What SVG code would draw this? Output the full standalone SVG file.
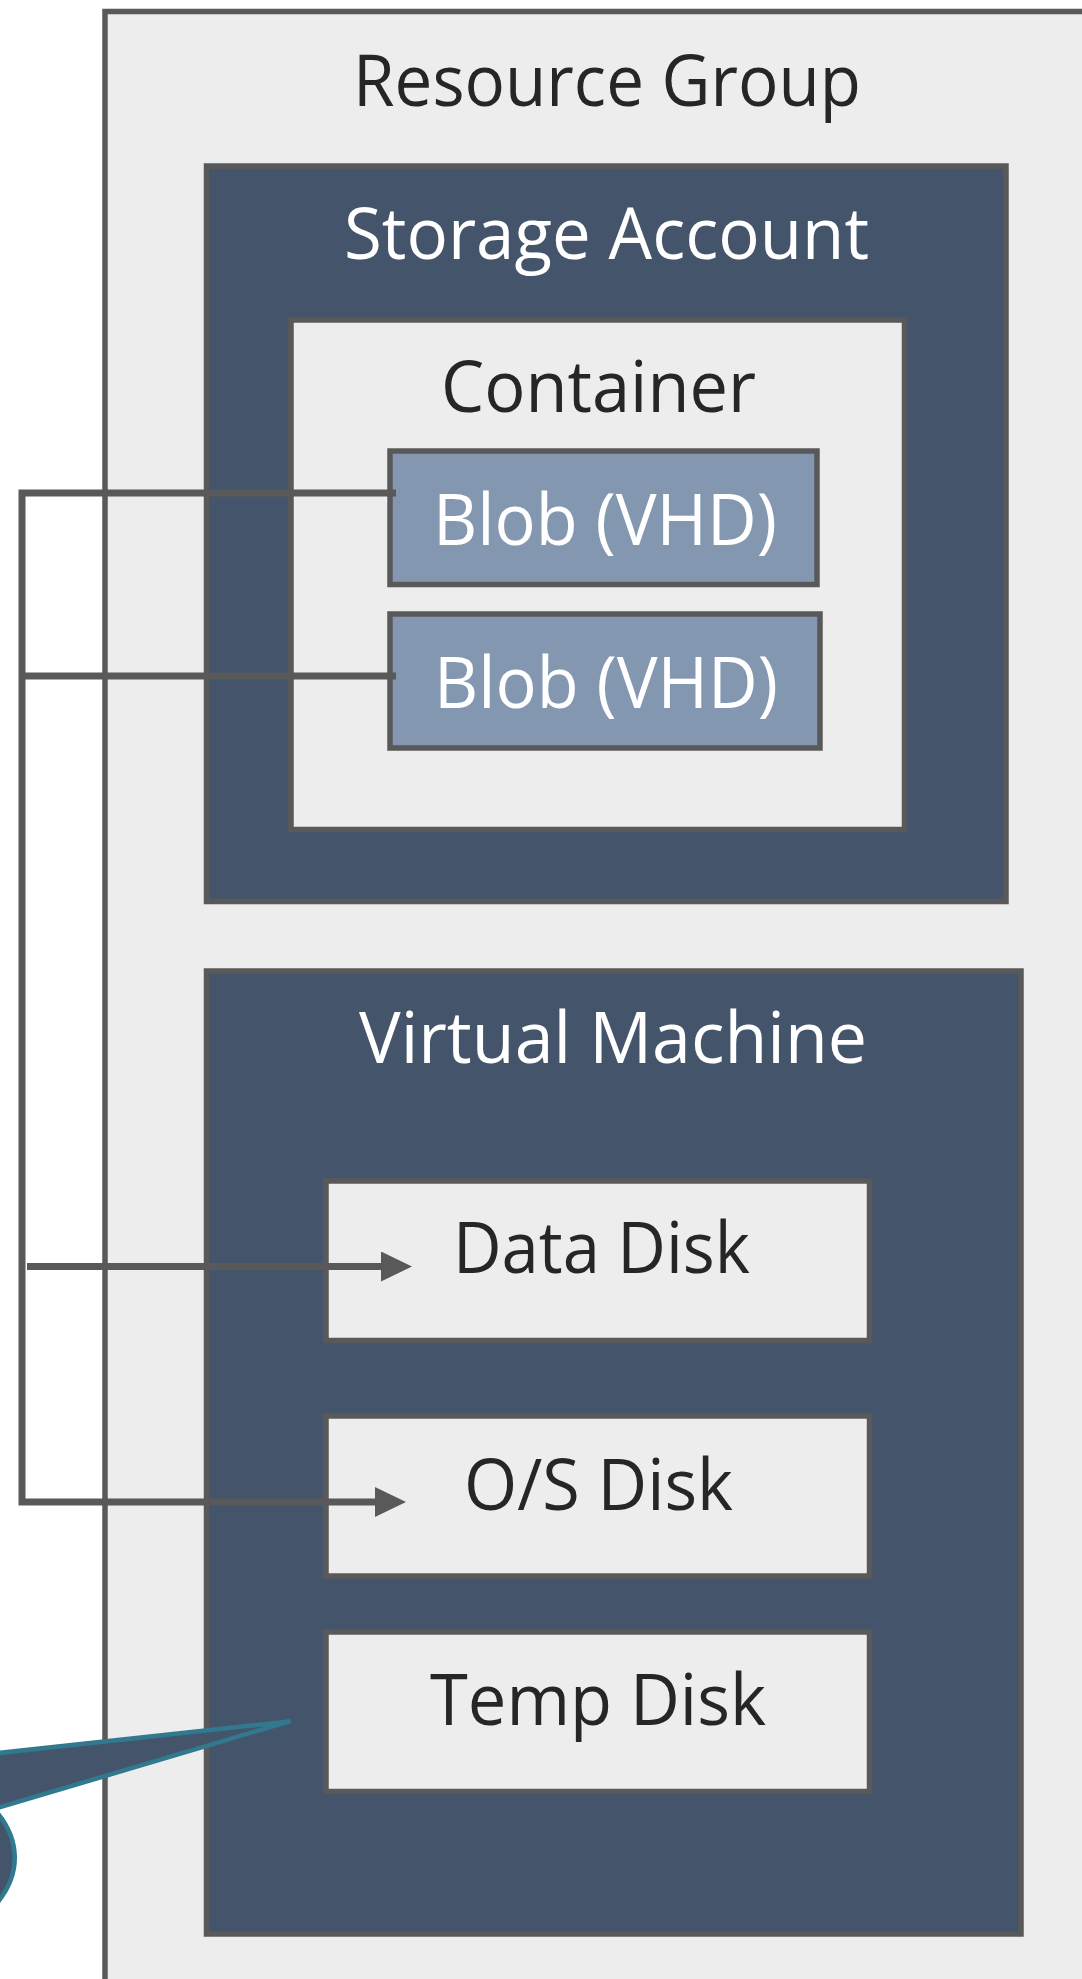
<svg xmlns="http://www.w3.org/2000/svg" width="1082" height="1979" viewBox="0 0 1082 1979">
  <style>
    .box { stroke: #595959; stroke-width: 5.5; }
    .light { fill: #ededed; }
    .dark { fill: #44546a; }
    .blob { fill: #8497b0; }
    text { font-family: "Open Sans", "Noto Sans", "Liberation Sans", sans-serif; font-size: 71px; text-anchor: middle; }
    .tdark { fill: #262626; }
    .tlight { fill: #ffffff; }
    .wire { fill: none; stroke: #595959; stroke-width: 7; }
  </style>
  <defs>
    <marker id="arrow" viewBox="0 0 31 30" markerUnits="userSpaceOnUse" markerWidth="31" markerHeight="30" refX="2" refY="15" orient="auto">
      <path d="M0,0 L31,15 L0,30 z" fill="#595959"/>
    </marker>
  </defs>

  <rect width="1082" height="1979" fill="#ffffff"/>

  <g id="resource-group">
    <rect class="box light" x="105" y="11.5" width="1100" height="2000"/>
    <text class="tdark" x="607" y="106" textLength="508" lengthAdjust="spacingAndGlyphs">Resource Group</text>
  </g>

  <g id="storage-account">
    <rect class="box dark" x="206.5" y="166" width="799.5" height="735.5"/>
    <text class="tlight" x="606.5" y="259" textLength="525" lengthAdjust="spacingAndGlyphs">Storage Account</text>
  </g>

  <g id="container">
    <rect class="box light" x="291" y="320" width="613.5" height="509.5"/>
    <text class="tdark" x="598.5" y="412" textLength="315" lengthAdjust="spacingAndGlyphs">Container</text>
  </g>

  <g id="blob-1">
    <rect class="box blob" x="390" y="451" width="427" height="133.5"/>
    <text class="tlight" x="605" y="545" textLength="344" lengthAdjust="spacingAndGlyphs">Blob (VHD)</text>
  </g>

  <g id="blob-2">
    <rect class="box blob" x="390" y="614" width="430" height="134"/>
    <text class="tlight" x="606" y="708" textLength="344" lengthAdjust="spacingAndGlyphs">Blob (VHD)</text>
  </g>

  <g id="virtual-machine">
    <rect class="box dark" x="206.5" y="971" width="814.5" height="963"/>
    <text class="tlight" x="613" y="1063" textLength="508" lengthAdjust="spacingAndGlyphs">Virtual Machine</text>
  </g>

  <g id="data-disk">
    <rect class="box light" x="326" y="1181" width="543.5" height="159.5"/>
    <text class="tdark" x="601.5" y="1273" textLength="297" lengthAdjust="spacingAndGlyphs">Data Disk</text>
  </g>

  <g id="os-disk">
    <rect class="box light" x="326" y="1416" width="543.5" height="160"/>
    <text class="tdark" x="598.5" y="1510" textLength="269" lengthAdjust="spacingAndGlyphs">O/S Disk</text>
  </g>

  <g id="temp-disk">
    <rect class="box light" x="326" y="1632" width="543.5" height="159.5"/>
    <text class="tdark" x="598" y="1725" textLength="336" lengthAdjust="spacingAndGlyphs">Temp Disk</text>
  </g>

  <g id="connectors">
    <path class="wire" d="M396 493 H22 V1502 H377" marker-end="url(#arrow)"/>
    <path class="wire" d="M22 676 H396"/>
    <path class="wire" d="M27 1266.5 H383" marker-end="url(#arrow)"/>
  </g>

  <g id="callout">
    <path d="M289 1721.5 L-86 1762.2 A200 110 0 1 0 -6 1808.9 Z" fill="#44546a" stroke="#31798f" stroke-width="4.5" stroke-linejoin="round"/>
  </g>
</svg>
